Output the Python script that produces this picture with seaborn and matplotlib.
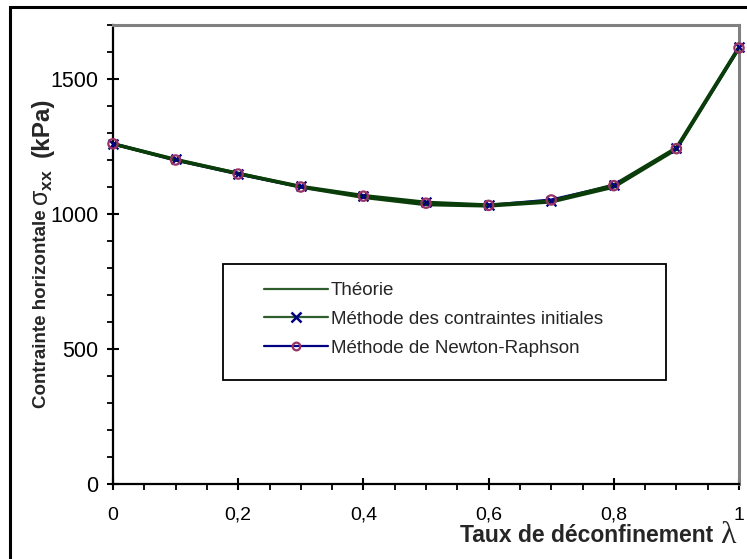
import matplotlib
matplotlib.use("Agg")
import matplotlib.pyplot as plt
import seaborn as sns
import pandas as pd
from matplotlib.patches import Rectangle
from matplotlib.lines import Line2D
from matplotlib.ticker import MultipleLocator, FuncFormatter

# ---- data ----
lam = [0.0, 0.1, 0.2, 0.3, 0.4, 0.5, 0.6, 0.7, 0.8, 0.9, 1.0]
theorie = [1260, 1200, 1150, 1100, 1062, 1035, 1030, 1045, 1100, 1240, 1615]
contraintes_initiales = [1260, 1202, 1150, 1102, 1068, 1043, 1033, 1048, 1107, 1245, 1618]
newton_raphson = [1260, 1200, 1148, 1100, 1066, 1040, 1032, 1052, 1105, 1242, 1615]
series_names = ["Théorie", "Méthode des contraintes initiales", "Méthode de Newton-Raphson"]
x_ticks = [0, 0.2, 0.4, 0.6, 0.8, 1.0]
y_ticks = [0, 500, 1000, 1500]

sns.set_style("white")
plt.rcParams["font.family"] = ["Liberation Sans", "DejaVu Sans"]
plt.rcParams["mathtext.fontset"] = "custom"
plt.rcParams["mathtext.rm"] = "Liberation Sans"
plt.rcParams["mathtext.it"] = "Liberation Sans"
plt.rcParams["mathtext.bf"] = "Liberation Sans:bold"

W, H = 747, 559
fig = plt.figure(figsize=(W / 100, H / 100), dpi=100)
fig.patch.set_facecolor("white")
ax = fig.add_axes([113 / W, 1 - 484 / H, (739 - 113) / W, (484 - 25) / H])

df_t = pd.DataFrame({"x": lam, "y": theorie})
df_c = pd.DataFrame({"x": lam, "y": contraintes_initiales})
df_n = pd.DataFrame({"x": lam, "y": newton_raphson})

green = "#0a3d0a"
sns.lineplot(data=df_n, x="x", y="y", ax=ax, color="#000080", lw=2.2, zorder=2)
sns.lineplot(data=df_t, x="x", y="y", ax=ax, color=green, lw=2.5, zorder=3)
sns.lineplot(data=df_c, x="x", y="y", ax=ax, color=green, lw=2.5, zorder=3)
sns.scatterplot(data=df_c, x="x", y="y", ax=ax, marker="x", color="#000080",
                s=50, linewidth=1.6, zorder=5, clip_on=False)
sns.scatterplot(data=df_n, x="x", y="y", ax=ax, marker="o", facecolor="none",
                edgecolor="#993366", s=45, linewidth=1.6, zorder=6, clip_on=False)

ax.set_xlim(0, 1)
ax.set_ylim(0, 1700)
ax.set_xlabel("")
ax.set_ylabel("")
ax.set_xticks(x_ticks)
ax.set_yticks(y_ticks)
ax.xaxis.set_minor_locator(MultipleLocator(0.05))
ax.yaxis.set_minor_locator(MultipleLocator(100))
ax.xaxis.set_major_formatter(FuncFormatter(lambda v, p: ("%g" % v).replace(".", ",")))
ax.tick_params(axis="both", which="major", direction="inout", length=9, width=1.5,
               colors="black")
ax.tick_params(axis="x", which="major", pad=12, labelsize=14)
ax.tick_params(axis="y", which="major", pad=6, labelsize=15.5)
ax.tick_params(axis="both", which="minor", direction="out", length=4, width=1.3, colors="black")
ax.tick_params(axis="both", which="both", bottom=True, left=True, top=False, right=False)

for s in ["left", "bottom"]:
    ax.spines[s].set_color("black")
    ax.spines[s].set_linewidth(1.6)
for s in ["top", "right"]:
    ax.spines[s].set_color("#808080")
    ax.spines[s].set_linewidth(2.2)
    ax.spines[s].set_visible(True)

# legend
handles = [
    Line2D([], [], color="#2e5e2e", lw=1.6),
    Line2D([], [], color="#2e5e2e", lw=1.6, marker="x", mec="#000080", mew=1.8, ms=7),
    Line2D([], [], color="#000080", lw=1.6, marker="o", mfc="none", mec="#993366", mew=1.6, ms=5.5),
]
leg = ax.legend(handles, series_names, loc="upper left",
                bbox_to_anchor=((264 - 113) / 626, (484 - 282) / 459), frameon=False,
                fontsize=13.5, handlelength=3.4, handletextpad=0.15, labelspacing=0.62,
                borderpad=0, borderaxespad=0)
rect = Rectangle(((223 - 113) / 626, (484 - 380) / 459), (666 - 223) / 626, (380 - 264) / 459,
                 transform=ax.transAxes, facecolor="white", edgecolor="black", lw=1.3, zorder=7)
ax.add_patch(rect)
leg.set_zorder(8)

# y-axis label (pieces with different sizes, like the original)
fig.text(42 / W, 1 - 408 / H, "Contrainte horizontale", rotation=90, ha="center", va="bottom",
         fontsize=13.5, fontweight="bold")
fig.text(43 / W, 1 - 206 / H, r"$\sigma_{\mathbf{xx}}$", rotation=90, ha="center", va="bottom",
         fontsize=18)
fig.text(42 / W, 1 - 157 / H, "(kPa)", rotation=90, ha="center", va="bottom", fontsize=17.5,
         fontweight="bold")

# x-axis label
fig.text(713 / W, 1 - 542 / H, "Taux de déconfinement", ha="right", va="baseline",
         fontsize=16.5, fontweight="bold")
fig.text(728 / W, 1 - 543 / H, "λ", ha="center", va="baseline", fontsize=23,
         family=["Liberation Serif", "DejaVu Serif"])

# outer frame
fig.add_artist(Rectangle((10 / W, -0.05), 1.2, 1 - 7 / H + 0.05, transform=fig.transFigure,
                         fill=False, edgecolor="black", lw=2.2))

fig.savefig("out.png", dpi=100, facecolor="white")
